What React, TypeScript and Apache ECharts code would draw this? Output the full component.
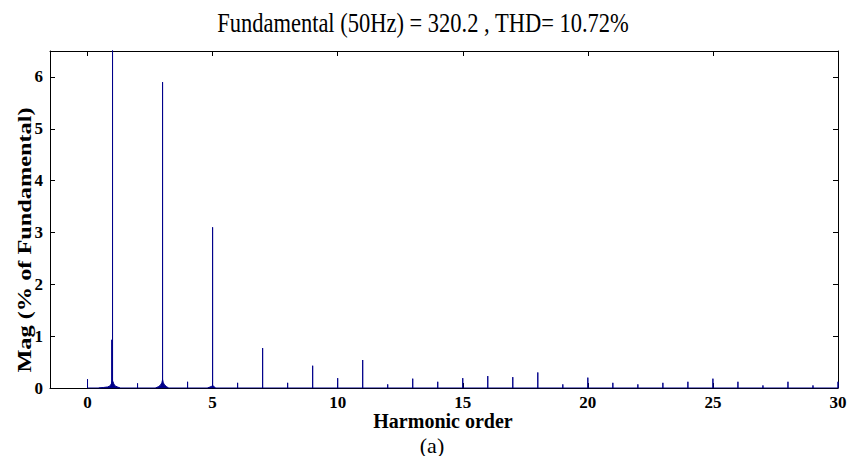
import React, { useEffect, useRef } from "react";
import * as echarts from "echarts";

// Harmonic spectrum (% of fundamental)
const spikeOrders = [0, 0.97, 1, 2, 3, 4, 5, 6, 7, 8, 9, 10, 11, 12, 13, 14, 15, 16, 17, 18, 19, 20, 21, 22, 23, 24, 25, 26, 27, 28, 29, 30];
const spikeMags = [0.17, 0.93, 100, 0.09, 5.9, 0.12, 3.1, 0.1, 0.77, 0.1, 0.43, 0.19, 0.54, 0.07, 0.18, 0.12, 0.19, 0.23, 0.21, 0.3, 0.07, 0.2, 0.1, 0.07, 0.1, 0.12, 0.18, 0.12, 0.05, 0.12, 0.05, 0.12];

// Low side-band humps around the 1st, 3rd and 5th harmonics
const hump1Orders = [0.45, 0.64, 0.8, 0.9, 0.95, 1.0, 1.05, 1.1, 1.2, 1.3];
const hump1Mags = [0, 0.01, 0.02, 0.04, 0.08, 0.14, 0.08, 0.04, 0.02, 0];
const hump3Orders = [2.72, 2.85, 2.92, 2.97, 3.0, 3.03, 3.08, 3.15, 3.24];
const hump3Mags = [0, 0.03, 0.06, 0.1, 0.16, 0.1, 0.06, 0.03, 0];
const hump5Orders = [4.8, 4.95, 5.0, 5.05, 5.12];
const hump5Mags = [0, 0.03, 0.05, 0.03, 0];

const xTicks = [0, 5, 10, 15, 20, 25, 30];
const yTicks = [0, 1, 2, 3, 4, 5, 6];

const titleText = "Fundamental (50Hz) = 320.2 , THD= 10.72%";
const xName = "Harmonic order";
const yName = "Mag (% of Fundamental)";
const caption = "(a)";

const SERIF = "Liberation Serif";
const NAVY = "#00008b";

export default function App() {
  const ref = useRef<HTMLDivElement>(null);
  useEffect(() => {
    if (!ref.current) return;
    const chart = echarts.init(ref.current, undefined, { renderer: "svg" });

    const spikeData: [number, number][] = [];
    spikeOrders.forEach((o, i) => {
      spikeData.push([o, 0], [o, spikeMags[i]], [o, 0]);
    });
    const humps = [
      [hump1Orders, hump1Mags],
      [hump3Orders, hump3Mags],
      [hump5Orders, hump5Mags],
    ];

    const labelStyle = { fontFamily: SERIF, fontWeight: "bold" as const, fontSize: 17, color: "#000", lineHeight: 16 };
    const axisLine = { show: true, onZero: false, lineStyle: { color: "#000", width: 1 } };
    const txt = (text: string, size: number, weight: string) => ({
      text, fontFamily: SERIF, fontSize: size, fontWeight: weight, fill: "#000",
      textAlign: "center", textVerticalAlign: "middle",
    });

    chart.setOption({
      animation: false,
      grid: { left: 50, top: 51, right: 13, bottom: 68 },
      xAxis: [
        {
          type: "value", min: -1.5, max: 30, position: "bottom",
          axisLine,
          axisTick: { show: true, inside: true, length: 5, customValues: xTicks, lineStyle: { color: "#000" } },
          axisLabel: { show: true, customValues: xTicks, margin: 6, ...labelStyle },
          splitLine: { show: false },
        },
        {
          type: "value", min: -1.5, max: 30, position: "top",
          axisLine,
          axisTick: { show: true, inside: true, length: 5, customValues: xTicks, lineStyle: { color: "#000" } },
          axisLabel: { show: false },
          splitLine: { show: false },
        },
      ],
      yAxis: [
        {
          type: "value", min: 0, max: 6.5, position: "left",
          axisLine,
          axisTick: { show: true, inside: true, length: 5, customValues: yTicks, lineStyle: { color: "#000" } },
          axisLabel: { show: true, customValues: yTicks, margin: 7, ...labelStyle },
          splitLine: { show: false },
        },
        {
          type: "value", min: 0, max: 6.5, position: "right",
          axisLine,
          axisTick: { show: true, inside: true, length: 5, customValues: yTicks, lineStyle: { color: "#000" } },
          axisLabel: { show: false },
          splitLine: { show: false },
        },
      ],
      series: [
        ...humps.map(([os, ms]) => ({
          type: "line",
          xAxisIndex: 0, yAxisIndex: 0,
          data: os.map((o, i) => [o, ms[i]]),
          symbol: "none",
          lineStyle: { color: NAVY, width: 1 },
          areaStyle: { color: NAVY, opacity: 1 },
          silent: true,
          z: 2,
        })),
        {
          type: "line",
          xAxisIndex: 0, yAxisIndex: 0,
          data: spikeData,
          symbol: "none",
          clip: true,
          lineStyle: { color: NAVY, width: 1 },
          silent: true,
          z: 3,
        },
      ],
      graphic: [
        { type: "text", x: 423, y: 23, scaleX: 0.9, scaleY: 1.08, style: txt(titleText, 25, "normal") },
        { type: "text", x: 443, y: 421, style: txt(xName, 20, "bold") },
        { type: "text", x: 432, y: 445, style: txt(caption, 22, "normal") },
        { type: "text", x: 25, y: 240, rotation: Math.PI / 2, scaleX: 1.35, style: txt(yName, 18, "bold") },
      ],
    });
    return () => chart.dispose();
  }, []);
  return <div ref={ref} style={{ position: "absolute", left: 0, top: 0, width: 851, height: 456 }} />;
}
